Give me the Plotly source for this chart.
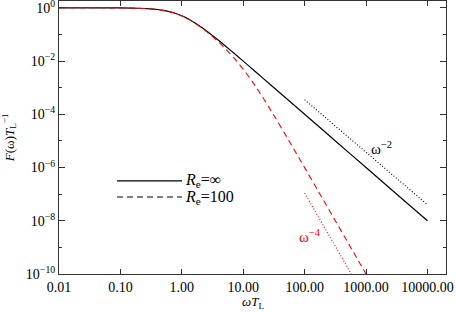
import plotly.graph_objects as go

# --- data ---
omega_inf = [0.01, 0.05, 0.1, 0.2, 0.3, 0.4, 0.5, 0.6, 0.8, 1.0, 1.2, 1.5, 2.0, 2.5, 3.0,
             4.0, 5.0, 7.0, 10, 15, 20, 30, 50, 100, 300, 1000, 3000, 10000]
F_inf = [0.9999, 0.9975, 0.990, 0.962, 0.917, 0.862, 0.800, 0.735, 0.610, 0.500, 0.410,
         0.308, 0.200, 0.138, 0.100, 0.0588, 0.0385, 0.0200, 0.0099, 0.00442, 0.00249,
         0.00111, 4.0e-4, 1.0e-4, 1.11e-5, 1.0e-6, 1.11e-7, 1.0e-8]

omega_100 = [0.01, 0.05, 0.1, 0.2, 0.3, 0.4, 0.5, 0.6, 0.8, 1.0, 1.2, 1.5, 2.0, 2.5, 3.0,
             4.0, 5.0, 7.0, 10, 15, 20, 30, 50, 70, 100, 150, 200, 300, 500, 700, 1000]
F_100 = [0.9999, 0.9975, 0.990, 0.962, 0.916, 0.861, 0.798, 0.732, 0.606, 0.495, 0.404,
         0.301, 0.192, 0.130, 0.0917, 0.0507, 0.0308, 0.0134, 0.00495, 0.00136, 4.98e-4,
         1.11e-4, 1.54e-5, 4.08e-6, 9.9e-7, 1.97e-7, 6.23e-8, 1.23e-8, 1.6e-9, 4.16e-10,
         1.0e-10]

omega_ref2 = [100, 10000]
F_ref2 = [3.5e-4, 4.0e-8]

omega_ref4 = [100, 575]
F_ref4 = [1.1e-7, 1.0e-10]

x_tickvals = [0.01, 0.1, 1, 10, 100, 1000, 10000]
x_ticktext = ["0.01", "0.10", "1.00", "10.00", "100.00", "1000.00", "10000.00"]
y_tickvals = [1, 1e-2, 1e-4, 1e-6, 1e-8, 1e-10]
y_ticktext = ["10<sup>0</sup>", "10<sup>−2</sup>", "10<sup>−4</sup>", "10<sup>−6</sup>",
              "10<sup>−8</sup>", "10<sup>−10</sup>"]
y_minorvals = [1e-1, 1e-3, 1e-5, 1e-7, 1e-9]

SERIF = "Liberation Serif"
AX = "#333333"

fig = go.Figure()
fig.add_trace(go.Scatter(x=omega_inf, y=F_inf, mode="lines",
                         line=dict(color="black", width=1.2), line_shape="spline",
                         showlegend=False))
fig.add_trace(go.Scatter(x=omega_100, y=F_100, mode="lines",
                         line=dict(color="red", width=1.1, dash="6px,4px"), line_shape="spline",
                         showlegend=False))
fig.add_trace(go.Scatter(x=omega_ref2, y=F_ref2, mode="lines",
                         line=dict(color="black", width=1.1, dash="1px,2px"), showlegend=False))
fig.add_trace(go.Scatter(x=omega_ref4, y=F_ref4, mode="lines",
                         line=dict(color="red", width=1.1, dash="1px,2px"), showlegend=False))

# legend drawn manually (black line samples like the reference)
fig.add_shape(type="line", xref="paper", yref="paper", x0=0.150, x1=0.318, y0=0.341, y1=0.341,
              line=dict(color="black", width=1.2))
fig.add_shape(type="line", xref="paper", yref="paper", x0=0.150, x1=0.318, y0=0.282, y1=0.282,
              line=dict(color="black", width=1.2, dash="6px,4px"))
fig.add_annotation(xref="paper", yref="paper", x=0.320, y=0.341, xanchor="left", yanchor="middle",
                   text="<i>R</i><sub>e</sub>=∞", showarrow=False,
                   font=dict(family=SERIF, size=16, color="black"))
fig.add_annotation(xref="paper", yref="paper", x=0.320, y=0.282, xanchor="left", yanchor="middle",
                   text="<i>R</i><sub>e</sub>=100", showarrow=False,
                   font=dict(family=SERIF, size=16, color="black"))

fig.add_annotation(x=3.25, y=-5.26, xref="x", yref="y", text="ω<sup>−2</sup>", showarrow=False,
                   font=dict(family=SERIF, size=15, color="black"))
fig.add_annotation(x=2.09, y=-8.57, xref="x", yref="y", text="ω<sup>−4</sup>", showarrow=False,
                   font=dict(family=SERIF, size=15, color="red"))

# axis titles
fig.add_annotation(xref="paper", yref="paper", x=0.5, y=-0.103, xanchor="center", yanchor="middle",
                   text="<i>ωT</i><sub>L</sub>", showarrow=False,
                   font=dict(family=SERIF, size=13, color="black"))
fig.add_annotation(xref="paper", yref="paper", x=-0.13, y=0.5, xanchor="center", yanchor="middle",
                   text="<i>F</i>(ω)<i>T</i><sub>L</sub><sup>−1</sup>", showarrow=False, textangle=-90,
                   font=dict(family=SERIF, size=13, color="black"))

fig.update_xaxes(type="log", range=[-2, 4.302], tickmode="array", tickvals=x_tickvals,
                 ticktext=x_ticktext, ticks="inside", ticklen=5, tickcolor=AX, tickwidth=1,
                 showline=True, linecolor=AX, linewidth=1, mirror="ticks", showgrid=False,
                 zeroline=False, automargin=False, ticklabeloverflow="allow",
                 tickfont=dict(family=SERIF, size=14, color="black"))
fig.update_yaxes(type="log", range=[-10, 0.255], tickmode="array", tickvals=y_tickvals,
                 ticktext=y_ticktext, ticks="inside", ticklen=6, tickcolor=AX, tickwidth=1,
                 minor=dict(tickvals=y_minorvals, ticks="inside", ticklen=3, tickcolor=AX,
                            showgrid=False),
                 showline=True, linecolor=AX, linewidth=1, mirror="ticks", showgrid=False,
                 zeroline=False, automargin=False, ticklabeloverflow="allow",
                 tickfont=dict(family=SERIF, size=14, color="black"))

fig.update_layout(width=456, height=312, margin=dict(l=59, r=10, t=1, b=38, autoexpand=False),
                  paper_bgcolor="white", plot_bgcolor="white", showlegend=False)

fig.write_html("out.html", config={"displayModeBar": False},
               post_script="document.body.style.margin='0';document.body.style.padding='0';")
